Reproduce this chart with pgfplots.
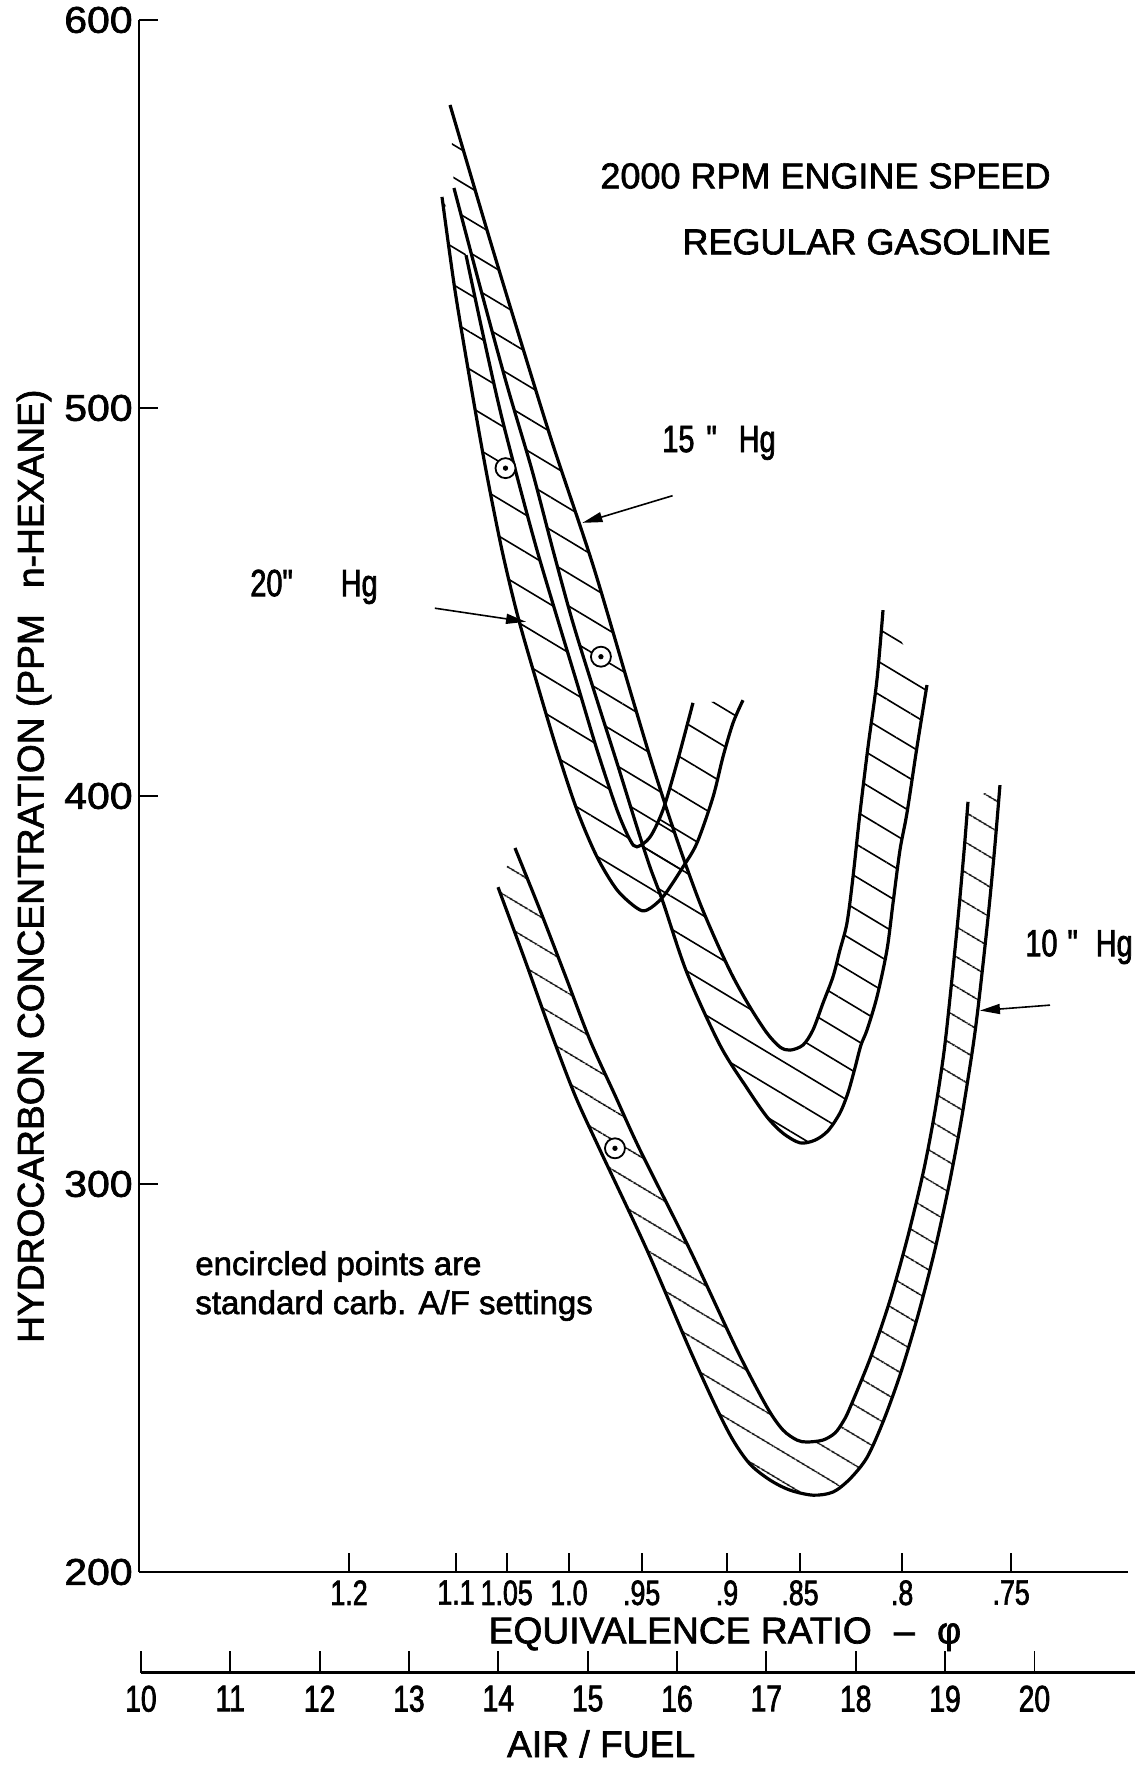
\documentclass[border=0pt]{standalone}
\usepackage{fontspec}
\setmainfont{Liberation Sans}[FakeBold=1.8]
\newfontfamily\narrowfont{Liberation Sans}[FakeStretch=0.76, FakeBold=1.8]
\newfontfamily\widefont{Liberation Sans}[FakeStretch=1.1, FakeBold=1.8]
\usepackage{pgfplots}
\usepackage{pgfplotstable}
\pgfplotsset{compat=1.18}
\usepgfplotslibrary{fillbetween}
\usetikzlibrary{patterns.meta,arrows.meta}

% Band boundaries: air/fuel ratio vs. hydrocarbon concentration (ppm n-hexane)
% 15" Hg, upper boundary
\pgfplotstableread{
af ppm
13.460 578.1
13.907 543.3
14.265 516.2
14.612 490.5
15.060 459.5
15.474 427.3
15.698 410.1
15.888 396.4
16.067 384.3
16.257 372.4
16.448 362.1
16.627 353.4
16.817 345.6
17.007 338.9
17.153 335.3
17.265 334.5
17.410 335.8
17.522 339.7
17.634 346.6
17.746 353.4
17.824 360.3
17.903 367.3
17.970 379.1
18.048 395.6
18.138 412.6
18.238 429.9
18.306 447.9
}\hgFifteenUpper
% 15" Hg, lower boundary
\pgfplotstableread{
af ppm
13.504 556.7
13.806 530.4
14.097 505.9
14.377 484.0
14.612 463.4
14.836 444.6
15.105 424.7
15.329 408.5
15.552 392.0
15.698 381.7
15.843 372.7
16.112 354.4
16.481 335.8
16.784 324.7
17.007 317.3
17.186 313.1
17.377 310.6
17.545 311.3
17.690 313.7
17.824 318.3
17.914 323.5
17.992 329.9
18.059 335.8
18.127 339.7
18.238 348.2
18.350 360.3
18.418 372.4
18.496 386.1
18.574 395.6
18.686 412.6
18.798 428.6
}\hgFifteenLower
% 20" Hg, outer boundary
\pgfplotstableread{
af ppm
13.370 554.4
13.515 530.4
13.683 507.2
13.862 484.0
14.041 463.4
14.221 446.1
14.433 429.1
14.657 411.9
14.881 396.4
15.105 384.3
15.329 375.8
15.552 371.1
15.664 370.6
15.843 374.0
16.067 381.7
16.224 387.9
16.403 399.7
16.515 410.1
16.627 418.8
16.739 424.7
}\hgTwentyOuter
% 20" Hg, inner boundary
\pgfplotstableread{
af ppm
13.639 539.4
13.818 520.1
14.019 499.5
14.221 481.4
14.433 463.4
14.657 446.1
14.881 429.1
15.105 411.9
15.329 396.4
15.474 388.7
15.552 386.9
15.698 389.4
15.843 396.4
16.000 408.5
16.179 424.0
}\hgTwentyInner
% 10" Hg, outer boundary
\pgfplotstableread{
af ppm
13.997 376.5
14.299 357.7
14.579 339.7
14.858 322.9
15.138 308.8
15.664 283.0
16.146 257.2
16.437 242.5
16.627 234.0
16.817 227.8
17.041 223.7
17.265 221.1
17.522 219.8
17.746 220.6
17.936 224.0
18.129 229.6
18.315 239.2
18.504 251.3
18.692 265.7
18.878 282.2
19.040 299.2
19.176 315.7
19.307 334.5
19.380 347.4
19.482 368.8
19.554 386.1
19.615 402.8
}\hgTenOuter
% 10" Hg, inner boundary
\pgfplotstableread{
af ppm
14.187 386.6
14.467 370.6
14.747 353.9
15.026 337.1
15.306 322.9
15.586 308.8
16.146 283.0
16.672 257.2
17.007 242.5
17.186 236.6
17.343 234.0
17.455 233.5
17.634 234.0
17.768 235.8
17.858 238.7
17.930 242.0
18.168 255.4
18.385 270.1
18.582 286.3
18.762 303.6
18.890 319.1
18.991 334.5
19.073 351.8
19.147 368.8
19.214 386.1
19.257 398.5
}\hgTenInner
% standard carburettor A/F settings
\pgfplotstableread{
af ppm
14.081 484.5
15.149 435.9
15.306 309.2
}\carbpoints

\tikzset{
  band/.style={black, line width=1.6pt, smooth, tension=0.5},
  hatch/.style={draw=none, pattern={Lines[angle=-31,distance=#1,line width=0.8pt]}},
  hatch/.default=14pt,
  pointer/.style={-{Triangle[length=10pt,width=5pt]}, line width=0.8pt},
  lbl/.style={inner sep=0pt, font=\fontsize{18.6}{20}\selectfont},
}

\begin{document}
\begin{tikzpicture}

\begin{axis}[
  at={(69.5pt,97.5pt)}, anchor=south west,
  scale only axis, width=494.5pt, height=776pt,
  xmin=9.979, xmax=21.048, ymin=200, ymax=600,
  axis x line*=bottom, axis y line*=left,
  x axis line style={-, line width=1.2pt},
  y axis line style={-, line width=1.2pt},
  clip=false,
  xtick={12.33,13.527,14.094,14.791,15.605,16.560,17.377,18.52,19.74},
  xticklabels={1.2,1.1,1.05,1.0,.95,.9,.85,.8,.75},
  ytick={200,300,400,500,600},
  tick align=inside,
  major tick length=9.5pt,
  tick style={line width=0.9pt, black},
  /pgf/number format/assume math mode=true,
  yticklabel style={font=\widefont\fontsize{18.6}{20}\selectfont, inner sep=0pt, xshift=-3pt},
  xticklabel style={font=\narrowfont\fontsize{17.6}{19}\selectfont, inner sep=0pt, yshift=-4pt},
]

% boundaries of the three bands
\addplot[band, name path=f1] table[x=af, y=ppm] {\hgFifteenUpper};
\addplot[band, name path=f2] table[x=af, y=ppm] {\hgFifteenLower};
\addplot[band, name path=t1] table[x=af, y=ppm] {\hgTwentyOuter};
\addplot[band, name path=t2] table[x=af, y=ppm] {\hgTwentyInner};
\addplot[band, name path=n1] table[x=af, y=ppm] {\hgTenOuter};
\addplot[band, name path=n2] table[x=af, y=ppm] {\hgTenInner};

% hatched bands
\addplot[hatch=14pt] fill between[of=f1 and f2];
\addplot[hatch=16pt] fill between[of=t1 and t2];
\addplot[hatch=13pt] fill between[of=n1 and n2];

% encircled points
\addplot[only marks, mark=*, mark size=5pt,
  mark options={fill=white, draw=black, line width=0.9pt}] table[x=af, y=ppm] {\carbpoints};
\addplot[only marks, mark=*, mark size=1.1pt, mark options={fill=black, draw=black}]
  table[x=af, y=ppm] {\carbpoints};

% annotations
\node[lbl, anchor=east, font=\fontsize{18}{20}\selectfont] at (axis cs:20.186,559.8) {2000 RPM ENGINE SPEED};
\node[lbl, anchor=east, font=\fontsize{18}{20}\selectfont] at (axis cs:20.186,542.8) {REGULAR GASOLINE};

\node[lbl, anchor=west, font=\narrowfont\fontsize{19}{21}\selectfont] at (axis cs:15.832,491.0) {15\hspace{6pt}"\hspace{11pt}Hg};
\draw[pointer] (axis cs:15.951,477.4) -- (axis cs:14.942,470.4);

\node[lbl, anchor=west, font=\narrowfont\fontsize{19}{21}\selectfont] at (axis cs:11.221,453.9) {20"\hspace{24pt}Hg};
\draw[pointer] (axis cs:13.290,448.4) -- (axis cs:14.311,444.9);

\node[lbl, anchor=west, font=\narrowfont\fontsize{19}{21}\selectfont] at (axis cs:19.895,361.1) {10\hspace{5pt}"\hspace{9pt}Hg};
\draw[pointer] (axis cs:20.175,346.1) -- (axis cs:19.391,344.7);

\node[lbl, anchor=west, align=left, font=\fontsize{16.5}{19.5}\selectfont] at (axis cs:10.605,273.7)
  {encircled points are\\standard carb. A/F settings};

\node[lbl, rotate=90] at (axis cs:8.804,381.9)
  {HYDROCARBON CONCENTRATION (PPM\hspace{0.7em}n-HEXANE)};
\node[lbl, anchor=base west] at (axis cs:13.888,181.6) {EQUIVALENCE RATIO\hspace{0.6em}–\hspace{0.6em}φ};
\node[lbl, anchor=base west] at (axis cs:14.094,152.3) {AIR / FUEL};
\end{axis}

% air/fuel scale beneath the equivalence-ratio scale
\begin{axis}[
  at={(70.5pt,47.15pt)}, anchor=south west,
  scale only axis, width=497pt, height=20pt,
  xmin=10.001, xmax=21.126, ymin=0, ymax=1,
  axis x line*=bottom, axis y line=none,
  x axis line style={-, line width=1.2pt},
  xtick={10,11,...,20},
  tick align=inside,
  major tick length=11pt,
  tick style={line width=0.9pt, black},
  /pgf/number format/assume math mode=true,
  xticklabel style={font=\narrowfont\fontsize{18.6}{20}\selectfont, inner sep=0pt, yshift=-6.25pt},
]
\addplot[draw=none] coordinates {(10,0) (21,1)};
\end{axis}

% page extent
\pgfresetboundingbox
\path[use as bounding box] (0pt,0pt) rectangle (569.5pt,883.5pt);
\end{tikzpicture}
\end{document}
